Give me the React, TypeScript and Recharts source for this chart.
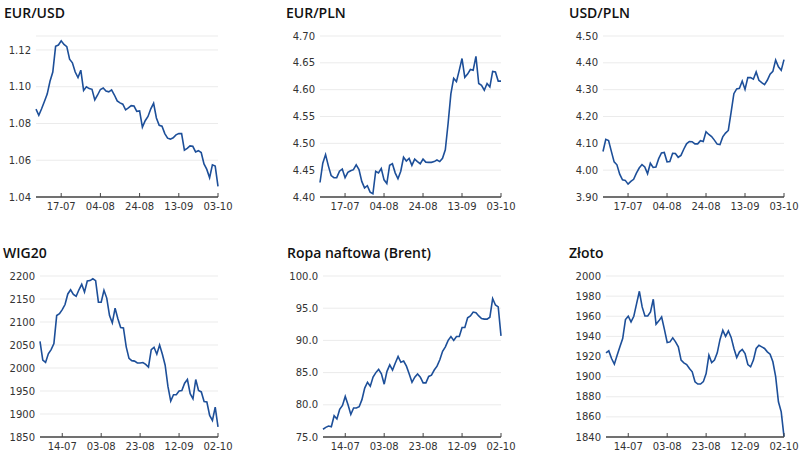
import React from 'react';
import { LineChart, Line, XAxis, YAxis, CartesianGrid } from 'recharts';

// sesje (dni robocze) 04-07 .. 03-10
const DATES = [
  '04-07', '05-07', '06-07', '07-07', '10-07', '11-07', '12-07', '13-07', '14-07', '17-07',
  '18-07', '19-07', '20-07', '21-07', '24-07', '25-07', '26-07', '27-07', '28-07', '31-07',
  '01-08', '02-08', '03-08', '04-08', '07-08', '08-08', '09-08', '10-08', '11-08', '14-08',
  '15-08', '16-08', '17-08', '18-08', '21-08', '22-08', '23-08', '24-08', '25-08', '28-08',
  '29-08', '30-08', '31-08', '01-09', '04-09', '05-09', '06-09', '07-09', '08-09', '11-09',
  '12-09', '13-09', '14-09', '15-09', '18-09', '19-09', '20-09', '21-09', '22-09', '25-09',
  '26-09', '27-09', '28-09', '29-09', '02-10', '03-10',
];
const DATES_BOTTOM = DATES.slice(0, 65);

const TICKS_TOP = ['17-07', '04-08', '24-08', '13-09', '03-10'];
const TICKS_BOTTOM = ['14-07', '03-08', '23-08', '12-09', '02-10'];

const EURUSD = [
  1.0878, 1.0845, 1.088, 1.092, 1.096, 1.103, 1.108, 1.122, 1.1227, 1.125,
  1.123, 1.1218, 1.115, 1.113, 1.108, 1.105, 1.109, 1.098, 1.1, 1.099,
  1.0986, 1.0928, 1.0955, 1.0985, 1.0993, 1.0977, 1.0972, 1.0983, 1.0955, 1.0923,
  1.0912, 1.0905, 1.0874, 1.0885, 1.0897, 1.0895, 1.0866, 1.0868, 1.078, 1.0815,
  1.0838, 1.088, 1.091, 1.083, 1.079, 1.0785, 1.0745, 1.072, 1.0715, 1.0722,
  1.0738, 1.0745, 1.0745, 1.0655, 1.0665, 1.0678, 1.0676, 1.0645, 1.0652, 1.0642,
  1.058, 1.055, 1.0505, 1.0575, 1.0568, 1.0458,
];
const EURPLN = [
  4.427, 4.463, 4.479, 4.458, 4.44, 4.436, 4.436, 4.448, 4.452, 4.436,
  4.446, 4.449, 4.451, 4.46, 4.451, 4.429, 4.417, 4.421, 4.409, 4.406,
  4.448, 4.445, 4.453, 4.432, 4.425, 4.459, 4.462, 4.445, 4.434, 4.448,
  4.474, 4.467, 4.472, 4.459, 4.4705, 4.466, 4.462, 4.4705, 4.465, 4.4645,
  4.4645, 4.466, 4.469, 4.466, 4.472, 4.488, 4.537, 4.592, 4.621, 4.615,
  4.636, 4.658, 4.623, 4.629, 4.6375, 4.636, 4.662, 4.6115, 4.608, 4.599,
  4.6115, 4.605, 4.634, 4.633, 4.616, 4.616,
];
const USDPLN = [
  4.0695, 4.115, 4.11, 4.07, 4.031, 4.02, 3.985, 3.964, 3.962, 3.948,
  3.958, 3.966, 3.989, 4.008, 4.021, 4.012, 3.987, 4.026, 4.01, 4.012,
  4.043, 4.064, 4.066, 4.031, 4.032, 4.063, 4.062, 4.048, 4.055, 4.078,
  4.098, 4.107, 4.106, 4.098, 4.098, 4.11, 4.107, 4.143, 4.133, 4.125,
  4.112, 4.097, 4.095, 4.124, 4.138, 4.148, 4.215, 4.285, 4.303, 4.305,
  4.332, 4.301, 4.345, 4.345, 4.339, 4.366, 4.335, 4.326, 4.319, 4.335,
  4.358, 4.368, 4.41, 4.385, 4.372, 4.412,
];
const WIG20 = [
  2058, 2017, 2012, 2031, 2040, 2053, 2114, 2118, 2127, 2138,
  2161, 2170, 2160, 2156, 2170, 2182, 2165, 2189, 2190, 2194,
  2190, 2143, 2143, 2169, 2152, 2114, 2098, 2130, 2107, 2088,
  2087, 2046, 2021, 2016, 2015, 2011, 2011, 2012, 2008, 2002,
  2040, 2045, 2030, 2050, 2030, 2006, 1960, 1928, 1942, 1942,
  1950, 1951, 1967, 1975, 1944, 1933, 1975, 1951, 1948, 1927,
  1926, 1897, 1886, 1915, 1872,
];
const BRENT = [
  76.2, 76.5, 76.7, 76.6, 78.3, 77.8, 79.3, 79.9, 81.3, 80.0,
  78.5, 79.5, 79.5, 79.7, 80.8, 82.6, 83.5, 82.9, 84.3, 85.0,
  85.5, 84.8, 83.2, 85.2, 86.2, 85.4, 86.5, 87.5, 86.6, 86.8,
  86.0, 84.8, 83.5, 84.3, 84.8, 84.3, 83.4, 83.4, 84.4, 84.6,
  85.4, 86.0, 87.0, 88.3, 89.0, 90.0, 90.6, 90.0, 90.6, 90.6,
  92.0, 92.0, 93.5, 93.8, 94.4, 94.3, 93.8, 93.4, 93.3, 93.3,
  93.6, 96.5, 95.5, 95.2, 90.7,
];
const ZLOTO = [
  1923.6, 1925.6, 1918, 1912.4, 1921.3, 1929.6, 1937.8, 1956.7, 1960, 1954.4,
  1960, 1972.6, 1984.8, 1969.3, 1960.3, 1960.3, 1964.3, 1976.9, 1952, 1955.4,
  1959.3, 1947, 1933.9, 1934.5, 1938.5, 1934.5, 1929.6, 1916.4, 1913.7, 1912,
  1908, 1904.8, 1894.9, 1892.6, 1892.6, 1895, 1903, 1921.3, 1914, 1916.4,
  1923.6, 1937, 1946, 1940, 1945.5, 1939, 1928, 1919, 1924.6, 1927,
  1923, 1912, 1909.8, 1916.4, 1928, 1931.2, 1929.6, 1928, 1924.6, 1922.3,
  1914.7, 1900, 1875, 1865, 1840.3,
];

const TICKS_EURUSD = [1.04, 1.06, 1.08, 1.1, 1.12];
const TICKS_EURPLN = [4.4, 4.45, 4.5, 4.55, 4.6, 4.65, 4.7];
const TICKS_USDPLN = [3.9, 4.0, 4.1, 4.2, 4.3, 4.4, 4.5];
const TICKS_WIG20 = [1850, 1900, 1950, 2000, 2050, 2100, 2150, 2200];
const TICKS_BRENT = [75, 80, 85, 90, 95, 100];
const TICKS_ZLOTO = [1840, 1860, 1880, 1900, 1920, 1940, 1960, 1980, 2000];

const LINE_COLOR = '#1d4f99';
const TICK_STYLE = { fontSize: 10, fill: '#333' };

const f2 = (v: number) => v.toFixed(2);
const f1 = (v: number) => v.toFixed(1);
const f0 = (v: number) => String(Math.round(v));

interface PanelProps {
  title: string;
  dates: string[];
  values: number[];
  xTicks: string[];
  yTicks: number[];
  domain: [number, number];
  fmt: (v: number) => string;
  left: number;
  top: number;
  width: number;
  height: number;
  yWidth: number;
  marginTop: number;
  marginRight: number;
  titleLeft: number;
  titleTop: number;
}

const Panel = (p: PanelProps) => {
  const data = p.dates.map((d, i) => ({ date: d, v: p.values[i] }));
  return (
    <>
      <div style={{ position: 'absolute', left: p.left, top: p.top }}>
        <LineChart
          width={p.width}
          height={p.height}
          data={data}
          margin={{ top: p.marginTop, right: p.marginRight, bottom: 0, left: 0 }}
        >
          <CartesianGrid vertical={false} stroke="#ebebeb" />
          <XAxis
            dataKey="date"
            ticks={p.xTicks}
            interval={0}
            height={22}
            tickSize={-4}
            tickMargin={10}
            axisLine={{ stroke: '#444', strokeWidth: 1.5 }}
            tickLine={{ stroke: '#444' }}
            tick={TICK_STYLE}
          />
          <YAxis
            type="number"
            width={p.yWidth}
            domain={p.domain}
            ticks={p.yTicks}
            interval={0}
            axisLine={false}
            tickLine={false}
            tickSize={2}
            tickMargin={3}
            tickFormatter={p.fmt}
            tick={TICK_STYLE}
          />
          <Line
            type="linear"
            dataKey="v"
            stroke={LINE_COLOR}
            strokeWidth={1.6}
            dot={false}
            isAnimationActive={false}
          />
        </LineChart>
      </div>
      <div
        style={{
          position: 'absolute',
          left: p.titleLeft,
          top: p.titleTop,
          fontFamily: '"Open Sans", sans-serif',
          fontSize: 14,
          fontWeight: 600,
          lineHeight: '14px',
          color: '#111',
          whiteSpace: 'nowrap',
        }}
      >
        {p.title}
      </div>
    </>
  );
};

const App = () => {
  const topH = 36 + 161 + 22;
  const botH = 49 + 161 + 22;
  return (
    <div
      style={{
        position: 'absolute',
        left: 0,
        top: 0,
        width: 800,
        height: 459,
        overflow: 'hidden',
        background: '#fff',
        fontFamily: '"DejaVu Sans", sans-serif',
      }}
    >
      <Panel title="EUR/USD" dates={DATES} values={EURUSD} xTicks={TICKS_TOP} yTicks={TICKS_EURUSD}
        domain={[1.04, 1.1276]} fmt={f2} left={0} top={0} width={238} height={topH} yWidth={36}
        marginTop={36} marginRight={20} titleLeft={4} titleTop={6} />
      <Panel title="EUR/PLN" dates={DATES} values={EURPLN} xTicks={TICKS_TOP} yTicks={TICKS_EURPLN}
        domain={[4.4, 4.7]} fmt={f2} left={280} top={0} width={241} height={topH} yWidth={40}
        marginTop={36} marginRight={20} titleLeft={286} titleTop={6} />
      <Panel title="USD/PLN" dates={DATES} values={USDPLN} xTicks={TICKS_TOP} yTicks={TICKS_USDPLN}
        domain={[3.9, 4.5]} fmt={f2} left={563} top={0} width={237} height={topH} yWidth={40}
        marginTop={36} marginRight={16} titleLeft={569} titleTop={6} />
      <Panel title="WIG20" dates={DATES_BOTTOM} values={WIG20} xTicks={TICKS_BOTTOM} yTicks={TICKS_WIG20}
        domain={[1850, 2200]} fmt={f0} left={0} top={227} width={238} height={botH} yWidth={40}
        marginTop={49} marginRight={20} titleLeft={3} titleTop={246} />
      <Panel title="Ropa naftowa (Brent)" dates={DATES_BOTTOM} values={BRENT} xTicks={TICKS_BOTTOM}
        yTicks={TICKS_BRENT} domain={[75, 100]} fmt={f1} left={280} top={227} width={241} height={botH}
        yWidth={43} marginTop={49} marginRight={20} titleLeft={287} titleTop={246} />
      <Panel title="Złoto" dates={DATES_BOTTOM} values={ZLOTO} xTicks={TICKS_BOTTOM} yTicks={TICKS_ZLOTO}
        domain={[1840, 2000]} fmt={f0} left={563} top={227} width={237} height={botH} yWidth={43}
        marginTop={49} marginRight={16} titleLeft={569} titleTop={246} />
    </div>
  );
};

export default App;
